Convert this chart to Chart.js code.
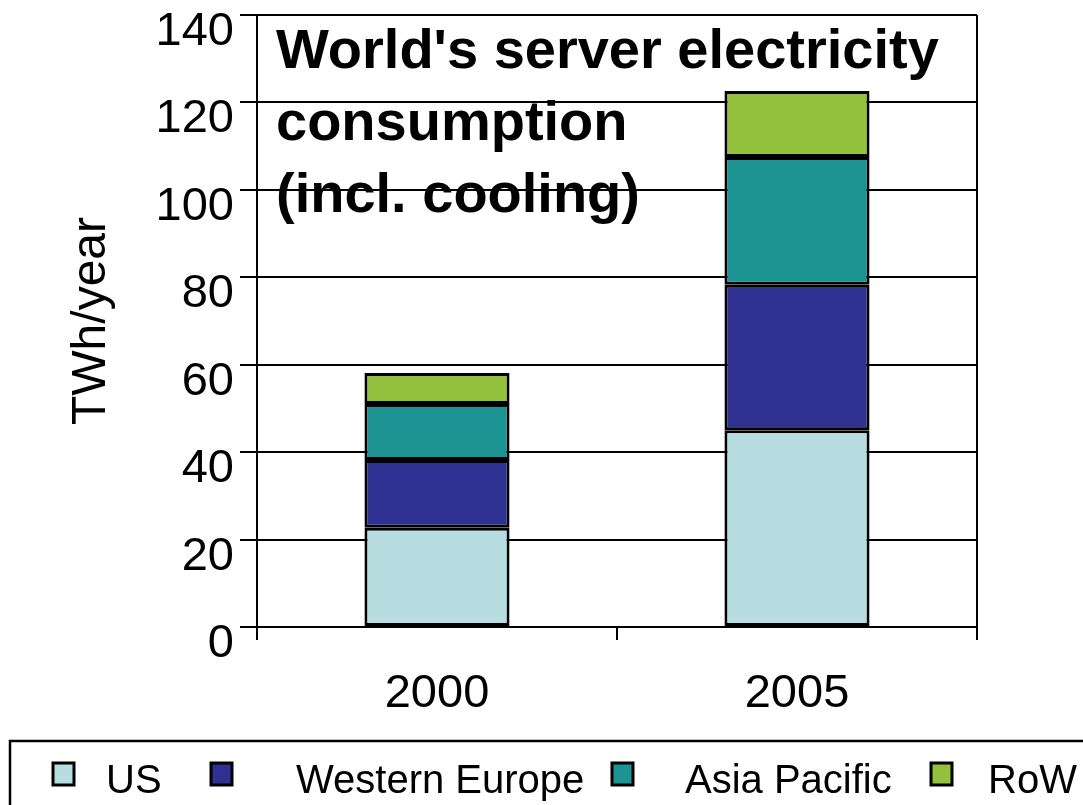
<!DOCTYPE html>
<html>
<head>
<meta charset="utf-8">
<script src="https://cdn.jsdelivr.net/npm/chart.js@4/dist/chart.umd.min.js"></script>
<style>
  html, body { margin: 0; padding: 0; background: #fff; }
  canvas { display: block; }
</style>
</head>
<body>
<canvas id="myChart" width="1083" height="805"></canvas>
<script>
const years = ['2000', '2005'];
const us = [22.7, 45.0];
const westernEurope = [15.5, 33.3];
const asiaPacific = [12.8, 29.2];
const restOfWorld = [7.1, 15.1];
const seriesNames = ['US', 'Western Europe', 'Asia Pacific', 'RoW'];
const seriesColors = ['#b8dde1', '#2e3192', '#1c9494', '#93c13e'];
const titleLines = ["World's server electricity", 'consumption', '(incl. cooling)'];
const yAxisTitle = 'TWh/year';

const FONT = '"Liberation Sans", Arial, sans-serif';

// title text sitting inside the plot, plus the right frame line
const insideTitle = {
    id: 'insideTitle',
    beforeDatasetsDraw(chart) {
        const {ctx, chartArea} = chart;
        ctx.save();
        ctx.strokeStyle = '#000';
        ctx.lineWidth = 2;
        ctx.beginPath();
        ctx.moveTo(chartArea.right, chartArea.top);
        ctx.lineTo(chartArea.right, chartArea.bottom);
        ctx.stroke();
        ctx.restore();
    },
    afterDraw(chart) {
        const {ctx, chartArea} = chart;
        ctx.save();
        ctx.fillStyle = '#000';
        ctx.font = `bold 56px ${FONT}`;
        ctx.textAlign = 'left';
        ctx.textBaseline = 'alphabetic';
        titleLines.forEach((line, i) => {
            ctx.fillText(line, chartArea.left + 19, 68 + i * 72);
        });
        ctx.restore();
    }
};

// legend drawn in a framed strip along the bottom edge
const boxLegend = {
    id: 'boxLegend',
    afterDraw(chart) {
        const ctx = chart.ctx;
        const markerX = [53, 211, 612, 931];
        const textX = [106, 296, 685, 988];
        ctx.save();
        ctx.strokeStyle = '#000';
        ctx.lineWidth = 2.5;
        ctx.strokeRect(10, 741, 1100, 100);
        ctx.font = `40px ${FONT}`;
        ctx.textBaseline = 'alphabetic';
        chart.data.datasets.forEach((ds, i) => {
            ctx.fillStyle = ds.backgroundColor;
            ctx.fillRect(markerX[i], 763, 21, 22);
            ctx.lineWidth = 3;
            ctx.strokeRect(markerX[i], 763, 21, 22);
            ctx.fillStyle = '#000';
            ctx.fillText(ds.label, textX[i], 793);
        });
        ctx.restore();
    }
};

const seriesData = [us, westernEurope, asiaPacific, restOfWorld];

const ctx = document.getElementById('myChart').getContext('2d');
const chart = new Chart(ctx, {
    type: 'bar',
    data: {
        labels: years,
        datasets: seriesData.map((d, i) => ({
            label: seriesNames[i],
            data: d,
            backgroundColor: seriesColors[i],
            borderColor: '#000',
            borderWidth: 3,
            borderSkipped: false,
            inflateAmount: 0,
            barPercentage: 0.403,
            categoryPercentage: 1,
        })),
    },
    options: {
        responsive: false,
        animation: false,
        layout: { padding: { top: 15, right: 106, left: 0, bottom: 0 } },
        plugins: {
            legend: { display: false },
            tooltip: { enabled: false },
        },
        scales: {
            x: {
                stacked: true,
                offset: true,
                grid: {
                    offset: true,
                    drawOnChartArea: false,
                    drawTicks: true,
                    tickLength: 13,
                    color: '#000',
                    lineWidth: 2,
                },
                border: { color: '#000', width: 2 },
                ticks: {
                    color: '#000',
                    font: { family: FONT, size: 47 },
                    padding: 26,
                },
                afterFit(scale) {
                    scale.height = 805 - 627;
                    scale.paddingLeft = 0;
                    scale.paddingRight = 0;
                },
            },
            y: {
                stacked: true,
                min: 0,
                max: 140,
                grid: {
                    color: '#000',
                    lineWidth: 2,
                    tickLength: 17,
                },
                border: { color: '#000', width: 2 },
                ticks: {
                    stepSize: 20,
                    color: '#000',
                    font: { family: FONT, size: 47 },
                    padding: 6,
                    labelOffset: 17,
                },
                title: {
                    display: true,
                    text: yAxisTitle,
                    color: '#000',
                    font: { family: FONT, size: 48 },
                    padding: { top: 63, bottom: 0 },
                },
                afterFit(scale) {
                    scale.width = 257;
                    scale.paddingTop = 0;
                    scale.paddingBottom = 0;
                },
            },
        },
    },
    plugins: [insideTitle, boxLegend],
});
</script>
</body>
</html>
